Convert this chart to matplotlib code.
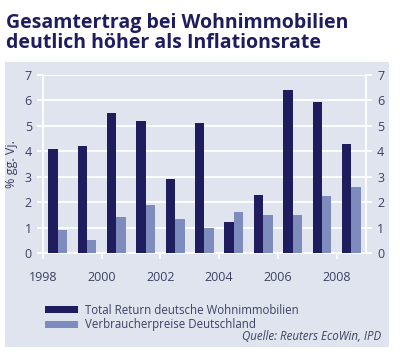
import numpy as np
import matplotlib
matplotlib.use("Agg")
import matplotlib.pyplot as plt
from matplotlib.patches import Rectangle

#---DATA
years = np.arange(1998, 2009)
total_return = [4.1, 4.2, 5.5, 5.2, 2.9, 5.1, 1.2, 2.3, 6.4, 5.95, 4.3]
cpi = [0.9, 0.5, 1.4, 1.9, 1.35, 1.0, 1.6, 1.5, 1.5, 2.25, 2.6]
yticks = list(range(0, 8))
xticks = [1998, 2000, 2002, 2004, 2006, 2008]

title = "Gesamtertrag bei Wohnimmobilien\ndeutlich höher als Inflationsrate"
labels = ["Total Return deutsche Wohnimmobilien", "Verbraucherpreise Deutschland"]
source = "Quelle: Reuters EcoWin, IPD"

#---STYLE
dark = "#201d5e"
light = "#7d8cbc"
bg = "#dfe4ee"
txt = "#3c4163"
plt.rcParams["font.family"] = ["Open Sans", "DejaVu Sans"]

fig = plt.figure(figsize=(4.0, 3.64), dpi=100)
fig.patch.set_facecolor("white")

# panel background
fig.patches.append(Rectangle((5 / 400, 1 - 347 / 364), 384 / 400, 285 / 364,
                             transform=fig.transFigure, facecolor=bg,
                             edgecolor="none", zorder=0))

fig.text(6 / 400, 1 - 13 / 364, title, ha="left", va="top", fontsize=14,
         fontweight="bold", color=dark, linespacing=1.0)

ax = fig.add_axes([43 / 400, 1 - 253 / 364, 323 / 400, 178 / 364])
ax.set_facecolor(bg)
ax.set_zorder(1)

#---BARS
w = 0.32
ax.bar(years + 0.5 - w / 2, total_return, width=w, color=dark, zorder=3,
       label=labels[0])
ax.bar(years + 0.5 + w / 2, cpi, width=w, color=light, zorder=3,
       label=labels[1])

ax.set_xlim(1998, 2009)
ax.set_ylim(0, 7)
ax.set_xticks(xticks)
ax.set_yticks(yticks)
ax.grid(axis="y", color="white", linewidth=1.3, zorder=1)

ax.spines["top"].set_visible(False)
for s in ["left", "right", "bottom"]:
    ax.spines[s].set_color("white")
    ax.spines[s].set_linewidth(1.3)

ax.tick_params(axis="both", colors="white", labelcolor=txt, labelsize=9,
               length=4, width=1.3)
ax.tick_params(axis="y", right=True, labelright=True, pad=4)
ax.tick_params(axis="x", pad=9)
ax.set_ylabel("% gg. Vj.", color=txt, fontsize=9, labelpad=5)

#---LEGEND
leg = fig.legend(loc="upper left", bbox_to_anchor=(40 / 400, 1 - 299 / 364),
                 frameon=False, fontsize=8.3, handlelength=2.9, handleheight=0.6,
                 handletextpad=0.6, labelspacing=0.15, borderaxespad=0)
for t in leg.get_texts():
    t.set_color(txt)

fig.text(381 / 400, 1 - 336 / 364, source, ha="right", va="center",
         fontsize=8.3, style="italic", color=txt)

fig.savefig("out.png", dpi=100, facecolor="white")
